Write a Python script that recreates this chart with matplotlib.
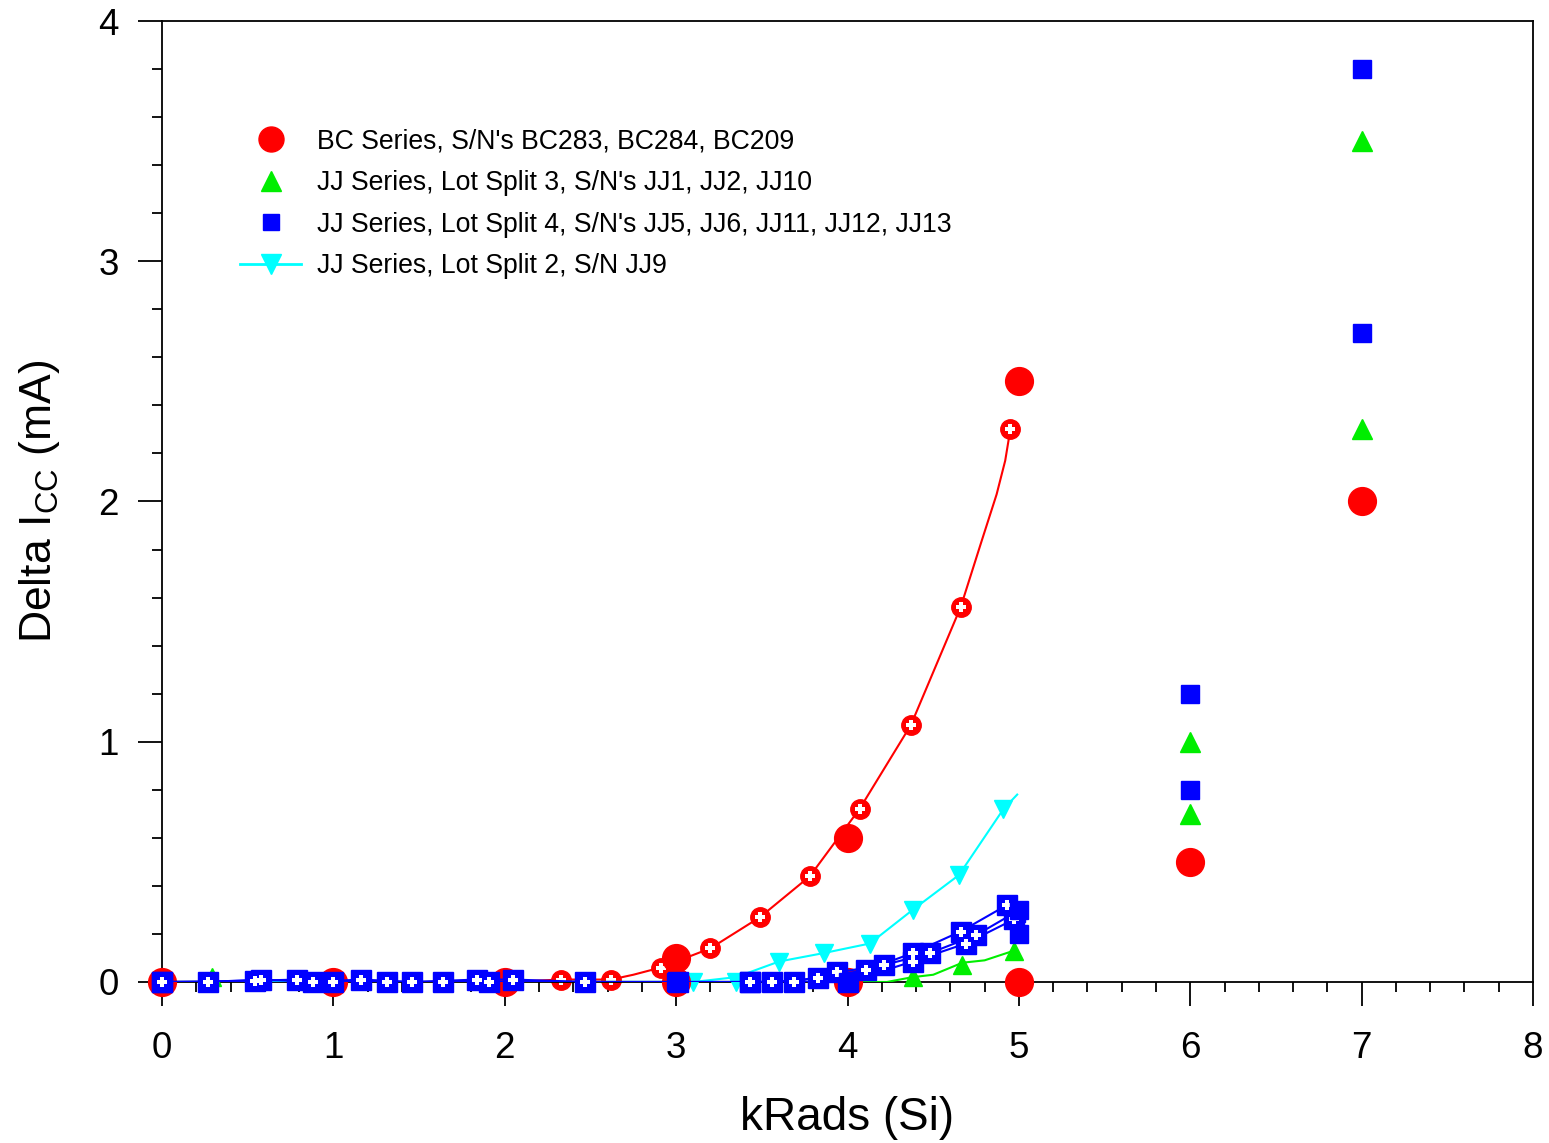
import matplotlib
matplotlib.use("Agg")
import matplotlib.pyplot as plt
from matplotlib.lines import Line2D
from matplotlib.ticker import MultipleLocator

plt.rcParams['font.family'] = ['Liberation Sans', 'DejaVu Sans']
plt.rcParams['mathtext.default'] = 'regular'

# BC series, in-situ curve (red) with marker points
bc_line_x = [0.0, 0.5, 1.0, 1.5, 2.0, 2.33, 2.62, 2.75, 2.91, 3.2, 3.49, 3.78, 4.07, 4.37, 4.66, 4.78, 4.87, 4.92, 4.95]
bc_line_y = [0.0, 0.0, 0.0, 0.0, 0.0, 0.01, 0.01, 0.03, 0.06, 0.14, 0.27, 0.44, 0.72, 1.07, 1.56, 1.83, 2.03, 2.17, 2.30]
bc_mark_x = [0.0, 2.33, 2.62, 2.91, 3.2, 3.49, 3.78, 4.07, 4.37, 4.66, 4.95]
bc_mark_y = [0.0, 0.01, 0.01, 0.06, 0.14, 0.27, 0.44, 0.72, 1.07, 1.56, 2.30]
bc_pts_x = [0, 1, 2, 3, 3, 4, 4, 5, 5, 6, 7]
bc_pts_y = [0.0, 0.0, 0.0, 0.1, 0.0, 0.6, 0.0, 2.5, 0.0, 0.5, 2.0]

# JJ lot split 3 (green)
ls3_line_x = [0.0, 1.0, 2.0, 3.0, 4.0, 4.23, 4.38, 4.5, 4.67, 4.8, 4.97]
ls3_line_y = [0.0, 0.0, 0.0, 0.0, 0.0, 0.0, 0.02, 0.03, 0.08, 0.09, 0.13]
ls3_mark_x = [0.0, 0.29, 4.38, 4.67, 4.97]
ls3_mark_y = [0.0, 0.02, 0.02, 0.07, 0.13]
ls3_pts_x = [6, 6, 7, 7]
ls3_pts_y = [1.0, 0.7, 3.5, 2.3]

# JJ lot split 4 (blue), three devices
ls4a_x = [0.0, 0.27, 0.58, 0.88, 1.16, 1.46, 1.84, 2.05, 2.47, 3.01, 3.43, 3.69, 3.94, 4.21, 4.48, 4.75, 4.98]
ls4a_y = [0.0, 0.0, 0.01, 0.0, 0.01, 0.0, 0.01, 0.01, 0.0, 0.0, 0.0, 0.0, 0.04, 0.07, 0.12, 0.195, 0.29]
ls4b_x = [0.0, 0.54, 0.79, 1.0, 1.31, 1.64, 1.91, 3.56, 3.83, 4.11, 4.38, 4.66, 4.93]
ls4b_y = [0.0, 0.005, 0.01, 0.0, 0.0, 0.0, 0.0, 0.0, 0.015, 0.05, 0.12, 0.21, 0.32]
ls4c_x = [3.43, 4.0, 4.38, 4.69, 4.97]
ls4c_y = [0.0, 0.0, 0.085, 0.16, 0.26]
ls4_pts_x = [3, 4, 5, 5, 6, 6, 7, 7]
ls4_pts_y = [0.0, 0.0, 0.3, 0.2, 1.2, 0.8, 3.8, 2.7]

# JJ lot split 2 (cyan)
ls2_line_x = [0.0, 1.0, 2.0, 2.8, 3.1, 3.35, 3.6, 3.86, 4.13, 4.38, 4.65, 4.91, 4.99]
ls2_line_y = [0.0, 0.0, 0.0, 0.0, 0.0, 0.02, 0.085, 0.12, 0.16, 0.30, 0.445, 0.72, 0.78]
ls2_mark_x = [3.1, 3.35, 3.6, 3.86, 4.13, 4.38, 4.65, 4.91]
ls2_mark_y = [0.0, 0.0, 0.085, 0.12, 0.16, 0.30, 0.445, 0.72]

labels = ["BC Series, S/N's BC283, BC284, BC209",
          "JJ Series, Lot Split 3, S/N's JJ1, JJ2, JJ10",
          "JJ Series, Lot Split 4, S/N's JJ5, JJ6, JJ11, JJ12, JJ13",
          "JJ Series, Lot Split 2, S/N JJ9"]

red = '#ff0000'
green = '#00ee00'
blue = '#0000ff'
cyan = '#00ffff'

fig = plt.figure(figsize=(15.49, 11.43), dpi=100)
ax = fig.add_axes([0.1046, 0.1409, 0.8851, 0.8407])

lw = 1.5
nc = dict(clip_on=False)
# red curve
ax.plot(bc_line_x, bc_line_y, color=red, lw=lw, zorder=2)
ax.plot(bc_mark_x, bc_mark_y, 'o', color=red, ms=14, zorder=2, **nc)
ax.plot(bc_mark_x, bc_mark_y, 'P', color='white', ms=6.5, mew=0, zorder=2.1, **nc)
# green curve
ax.plot(ls3_line_x, ls3_line_y, color=green, lw=lw, zorder=3)
ax.plot(ls3_mark_x, ls3_mark_y, '^', color=green, ms=13, zorder=3, **nc)
# cyan curve
ax.plot(ls2_line_x, ls2_line_y, color=cyan, lw=lw, zorder=4)
ax.plot(ls2_mark_x, ls2_mark_y, 'v', color=cyan, ms=13, zorder=4, **nc)

# post-irradiation red points (under the blue curves)
ax.plot(bc_pts_x, bc_pts_y, 'o', color=red, ms=20, zorder=5, **nc)

# blue curves
for bx, by in [(ls4a_x, ls4a_y), (ls4b_x, ls4b_y), (ls4c_x, ls4c_y)]:
    ax.plot(bx, by, color=blue, lw=lw, zorder=6)
    ax.plot(bx, by, 's', color=blue, ms=14, zorder=6, **nc)
    ax.plot(bx, by, 'P', color='white', ms=6.5, mew=0, zorder=6.1, **nc)

ax.plot(ls3_pts_x, ls3_pts_y, '^', color=green, ms=14, zorder=7, **nc)
ax.plot(ls4_pts_x, ls4_pts_y, 's', color=blue, ms=13, zorder=8, **nc)

ax.set_xlim(0, 8)
ax.set_ylim(0, 4)
ax.xaxis.set_major_locator(MultipleLocator(1))
ax.xaxis.set_minor_locator(MultipleLocator(0.2))
ax.yaxis.set_major_locator(MultipleLocator(1))
ax.yaxis.set_minor_locator(MultipleLocator(0.2))
ax.tick_params(which='major', direction='out', length=17, width=1.3, labelsize=26.5)
ax.tick_params(axis='x', which='major', pad=18)
ax.tick_params(axis='y', which='major', pad=14)
ax.tick_params(which='minor', direction='out', length=7, width=1.3)
for s in ax.spines.values():
    s.set_linewidth(1.3)

ax.set_xlabel('kRads (Si)', fontsize=33, labelpad=22)
ax.set_ylabel('Delta I$_{CC}$ (mA)', fontsize=32, labelpad=26)

handles = [
    Line2D([], [], ls='none', marker='o', color=red, ms=18),
    Line2D([], [], ls='none', marker='^', color=green, ms=14),
    Line2D([], [], ls='none', marker='s', color=blue, ms=12),
    Line2D([], [], color=cyan, lw=2, marker='v', ms=14),
]
ax.legend(handles, labels, loc='upper left', bbox_to_anchor=(0.049, 0.899),
          frameon=False, fontsize=19.2, handlelength=2.3, handletextpad=0.6,
          labelspacing=0.58, borderaxespad=0)

fig.savefig('out.png', dpi=100)
